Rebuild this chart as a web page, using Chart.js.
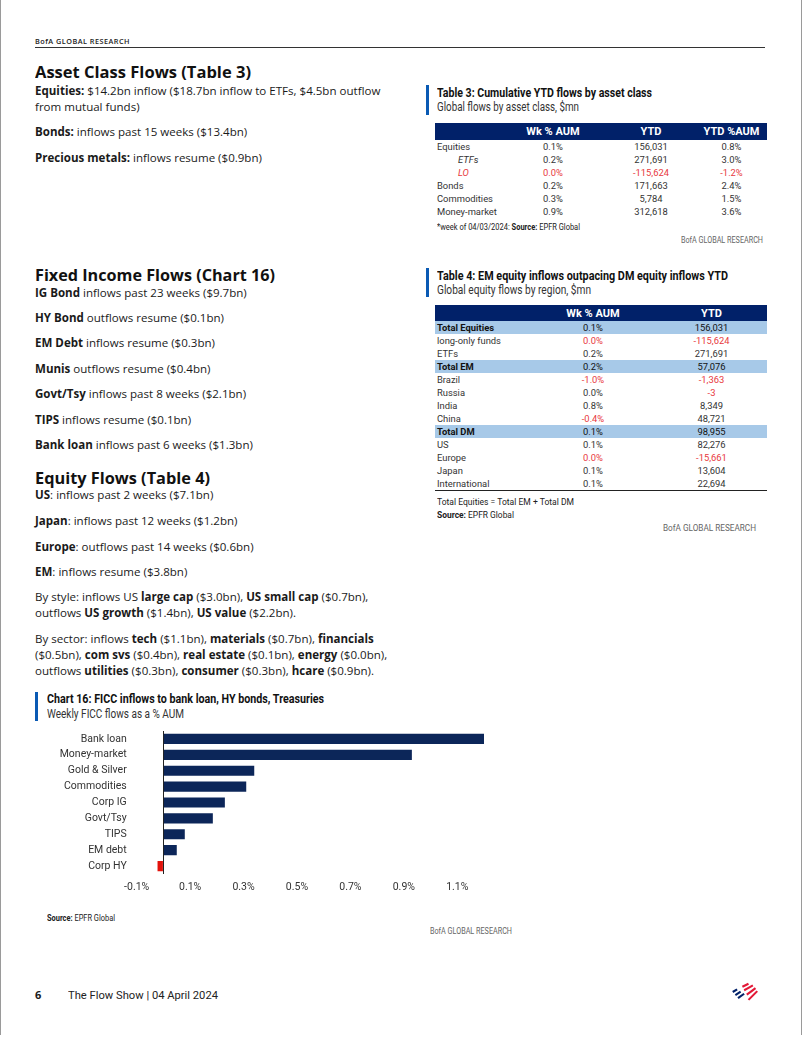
<!DOCTYPE html>
<html>
<head>
<meta charset="utf-8">
<script src="https://cdn.jsdelivr.net/npm/chart.js@4.4.1/dist/chart.umd.min.js"></script>
<style>
  html, body { margin:0; padding:0; background:#fff; }
  body { width:802px; height:1037px; position:relative; overflow:hidden; color:#1a1a1a;
         font-family:"Open Sans","Noto Sans",sans-serif; }
  .abs { position:absolute; white-space:nowrap; transform-origin:0 50%; }
  .frame { position:absolute; left:0; top:0; width:800px; height:1035px; border-left:1px solid #9a9a9a; border-right:1px solid #9a9a9a; }
  .hdr { font-size:7.5px; letter-spacing:0.5px; font-weight:600; color:#222; }
  .h1 { font-size:16.6px; font-weight:700; color:#111; line-height:20px; }
  .p { font-size:11.55px; line-height:16px; }
  .p b { font-weight:700; }
  .cond { font-family:Roboto,"Liberation Sans",sans-serif; }
  .ttl { font-size:12px; font-weight:700; line-height:14px; color:#111; }
  .sub { font-size:12px; line-height:14px; color:#333; }
  .bluebar { position:absolute; width:3px; background:#0a5ab4; }
  table { border-collapse:collapse; position:absolute; table-layout:fixed; }
  td, th { padding:0; height:13px; line-height:13px; font-size:9.4px; white-space:nowrap; overflow:visible; color:#333; }
  th { background:#012169; color:#fff; font-weight:700; font-size:11px; height:17px; text-align:center; }
  td.c { text-align:center; }
  td.l { text-align:left; padding-left:2px; }
  td.ind { padding-left:23px; }
  td.neg { color:#e8383d; }
  tr.hl td { background:#a7c9e8; color:#111; }
  tr.hl td.l { font-weight:700; }
  .note { font-size:8.4px; color:#222; line-height:11px; }
  .brand { font-size:8.4px; color:#666; line-height:11px; }
</style>
</head>
<body>
<div class="frame"></div>

<div class="abs hdr" data-w="95" style="left:35px; top:36px;">BofA GLOBAL RESEARCH</div>
<div class="abs" style="left:35px; top:47px; width:730px; height:1px; background:#333;"></div>

<!-- Left column -->
<div class="abs h1" data-w="216" style="left:35px; top:62px;">Asset Class Flows (Table 3)</div>
<div class="abs p" style="left:35px; top:83px;"><b>Equities:</b> $14.2bn inflow ($18.7bn inflow to ETFs, $4.5bn outflow<br>from mutual funds)</div>
<div class="abs p" style="left:35px; top:124px;"><b>Bonds:</b> inflows past 15 weeks ($13.4bn)</div>
<div class="abs p" style="left:35px; top:150px;"><b>Precious metals:</b> inflows resume ($0.9bn)</div>

<div class="abs h1" data-w="240" style="left:35px; top:265px;">Fixed Income Flows (Chart 16)</div>
<div class="abs p" style="left:35px; top:285px;"><b>IG Bond</b> inflows past 23 weeks ($9.7bn)</div>
<div class="abs p" style="left:35px; top:310px;"><b>HY Bond</b> outflows resume ($0.1bn)</div>
<div class="abs p" style="left:35px; top:335px;"><b>EM Debt</b> inflows resume ($0.3bn)</div>
<div class="abs p" style="left:35px; top:361px;"><b>Munis</b> outflows resume ($0.4bn)</div>
<div class="abs p" style="left:35px; top:386px;"><b>Govt/Tsy</b> inflows past 8 weeks ($2.1bn)</div>
<div class="abs p" style="left:35px; top:412px;"><b>TIPS</b> inflows resume ($0.1bn)</div>
<div class="abs p" style="left:35px; top:437px;"><b>Bank loan</b> inflows past 6 weeks ($1.3bn)</div>

<div class="abs h1" data-w="175" style="left:35px; top:468px;">Equity Flows (Table 4)</div>
<div class="abs p" style="left:35px; top:487px;"><b>US</b>: inflows past 2 weeks ($7.1bn)</div>
<div class="abs p" style="left:35px; top:513px;"><b>Japan</b>: inflows past 12 weeks ($1.2bn)</div>
<div class="abs p" style="left:35px; top:539px;"><b>Europe</b>: outflows past 14 weeks ($0.6bn)</div>
<div class="abs p" style="left:35px; top:564px;"><b>EM</b>: inflows resume ($3.8bn)</div>
<div class="abs p" style="left:35px; top:589px;">By style: inflows US <b>large cap</b> ($3.0bn), <b>US small cap</b> ($0.7bn),<br>outflows <b>US growth</b> ($1.4bn), <b>US value</b> ($2.2bn).</div>
<div class="abs p" style="left:35px; top:631px;">By sector: inflows <b>tech</b> ($1.1bn), <b>materials</b> ($0.7bn), <b>financials</b><br>($0.5bn), <b>com svs</b> ($0.4bn), <b>real estate</b> ($0.1bn), <b>energy</b> ($0.0bn),<br>outflows <b>utilities</b> ($0.3bn), <b>consumer</b> ($0.3bn), <b>hcare</b> ($0.9bn).</div>

<!-- Chart 16 -->
<div class="bluebar" style="left:35px; top:692px; height:29px;"></div>
<div class="abs cond ttl" data-w="277" style="left:47px; top:692px;">Chart 16: FICC inflows to bank loan, HY bonds, Treasuries</div>
<div class="abs cond sub" data-w="137" style="left:47px; top:707px;">Weekly FICC flows as a % AUM</div>
<div class="abs" style="left:40px; top:722px; width:460px; height:178px;"><canvas id="c"></canvas></div>
<div class="abs cond note" data-w="68" style="left:47px; top:913px;"><b>Source:</b> EPFR Global</div>
<div class="abs cond brand" data-w="82" style="left:430px; top:926px;">BofA GLOBAL RESEARCH</div>

<!-- Table 3 -->
<div class="bluebar" style="left:426px; top:85px; height:30px;"></div>
<div class="abs cond ttl" data-w="215" style="left:437px; top:86px;">Table 3: Cumulative YTD flows by asset class</div>
<div class="abs cond sub" data-w="142" style="left:437px; top:100px;">Global flows by asset class, $mn</div>
<table class="cond" id="t3" style="left:435px; top:123px; width:332px;">
  <colgroup><col style="width:65px"><col style="width:106px"><col style="width:90px"><col style="width:71px"></colgroup>
  <thead><tr><th></th><th>Wk % AUM</th><th>YTD</th><th>YTD %AUM</th></tr></thead>
  <tbody></tbody>
</table>
<div class="abs cond note" data-w="143" style="left:437px; top:222px;">*week of 04/03/2024: <b>Source:</b> EPFR Global</div>
<div class="abs cond brand" data-w="82" style="left:681px; top:235px;">BofA GLOBAL RESEARCH</div>

<!-- Table 4 -->
<div class="bluebar" style="left:426px; top:268px; height:29px;"></div>
<div class="abs cond ttl" data-w="291" style="left:437px; top:269px;">Table 4: EM equity inflows outpacing DM equity inflows YTD</div>
<div class="abs cond sub" data-w="154" style="left:437px; top:283px;">Global equity flows by region, $mn</div>
<table class="cond" id="t4" style="left:435px; top:305px; width:332px; border-bottom:1.5px solid #222;">
  <colgroup><col style="width:95px"><col style="width:126px"><col style="width:111px"></colgroup>
  <thead><tr><th style="height:16px"></th><th style="height:16px">Wk % AUM</th><th style="height:16px">YTD</th></tr></thead>
  <tbody></tbody>
</table>
<div class="abs cond note" data-w="137" style="left:437px; top:497px;">Total Equities = Total EM + Total DM</div>
<div class="abs cond note" data-w="77" style="left:437px; top:510px;"><b>Source:</b> EPFR Global</div>
<div class="abs cond brand" data-w="93" style="left:663px; top:523px;">BofA GLOBAL RESEARCH</div>

<!-- Footer -->
<div class="abs" style="left:35px; top:987px; font-size:11px; font-weight:700;">6</div>
<div class="abs cond" data-w="150" style="left:68px; top:988px; font-size:11.5px; color:#222;">The Flow Show | 04 April 2024</div>
<svg class="abs" style="left:731px; top:982px;" width="28" height="20" viewBox="0 0 32 22">
  <g stroke-width="2.4" stroke-linecap="butt" fill="none">
    <path d="M2 11 L7 8" stroke="#012169"/>
    <path d="M5 14.5 L11 10.5" stroke="#012169"/>
    <path d="M8 18 L15 13" stroke="#012169"/>
    <path d="M13 5 Q17 3 20 1.5" stroke="#e31837"/>
    <path d="M15 9 Q20 6.5 25 3.5" stroke="#e31837"/>
    <path d="M18 14 Q23 10.5 28 6.5" stroke="#e31837"/>
    <path d="M20 20 Q25 15 30 10" stroke="#e31837"/>
  </g>
</svg>

<script>
// ---------- Chart 16 data ----------
const categories = ["Bank loan","Money-market","Gold & Silver","Commodities","Corp IG","Govt/Tsy","TIPS","EM debt","Corp HY"];
const weeklyFlowPct = [1.20, 0.93, 0.34, 0.31, 0.23, 0.185, 0.08, 0.05, -0.022];
const xTickValues = [-0.1, 0.1, 0.3, 0.5, 0.7, 0.9, 1.1];

// ---------- Table 3 data ----------
const t3Labels = ["Equities","ETFs","LO","Bonds","Commodities","Money-market"];
const t3Indent = [false,true,true,false,false,false];
const t3WkAUM = ["0.1%","0.2%","0.0%","0.2%","0.3%","0.9%"];
const t3YTD = ["156,031","271,691","-115,624","171,663","5,784","312,618"];
const t3YTDAUM = ["0.8%","3.0%","-1.2%","2.4%","1.5%","3.6%"];
const t3Red = [false,false,true,false,false,false];

// ---------- Table 4 data ----------
const t4Labels = ["Total Equities","long-only funds","ETFs","Total EM","Brazil","Russia","India","China","Total DM","US","Europe","Japan","International"];
const t4Highlight = [true,false,false,true,false,false,false,false,true,false,false,false,false];
const t4WkAUM = ["0.1%","0.0%","0.2%","0.2%","-1.0%","0.0%","0.8%","-0.4%","0.1%","0.1%","0.0%","0.1%","0.1%"];
const t4WkRed = [false,true,false,false,true,false,false,true,false,false,true,false,false];
const t4YTD = ["156,031","-115,624","271,691","57,076","-1,363","-3","8,349","48,721","98,955","82,276","-15,661","13,604","22,694"];

// build tables
const tb3 = document.querySelector('#t3 tbody');
t3Labels.forEach((lab,i)=>{
  const tr = document.createElement('tr');
  const r = t3Red[i] ? ' neg' : '';
  tr.innerHTML = `<td class="l${t3Indent[i]?' ind':''}${r}" style="${t3Indent[i]?'font-style:italic':''}">${lab}</td>`+
    `<td class="c${r}">${t3WkAUM[i]}</td><td class="c${r}">${t3YTD[i]}</td><td class="c${r}">${t3YTDAUM[i]}</td>`;
  tb3.appendChild(tr);
});
const tb4 = document.querySelector('#t4 tbody');
t4Labels.forEach((lab,i)=>{
  const tr = document.createElement('tr');
  if (t4Highlight[i]) tr.className = 'hl';
  const wr = t4WkRed[i] ? ' neg' : '';
  const yr = t4YTD[i].startsWith('-') ? ' neg' : '';
  tr.innerHTML = `<td class="l">${lab}</td><td class="c${wr}">${t4WkAUM[i]}</td><td class="c${yr}">${t4YTD[i]}</td>`;
  tb4.appendChild(tr);
});

// fit text widths to the reference
function fitTexts(){
  document.querySelectorAll('[data-w]').forEach(el=>{
    el.style.transform = 'none';
    const w = el.getBoundingClientRect().width;
    const target = parseFloat(el.dataset.w);
    if (w > 0) el.style.transform = `scaleX(${target / w})`;
  });
}
fitTexts();
if (document.fonts && document.fonts.ready) document.fonts.ready.then(fitTexts);

// chart
const condFont = 'Roboto, "Liberation Sans", sans-serif';
new Chart(document.getElementById('c'), {
  type: 'bar',
  data: {
    labels: categories,
    datasets: [{
      data: weeklyFlowPct,
      backgroundColor: weeklyFlowPct.map(v => v < 0 ? '#e3120b' : '#0c2659'),
      barPercentage: 0.64,
      categoryPercentage: 1.0,
      borderWidth: 0
    }]
  },
  options: {
    indexAxis: 'y',
    responsive: true,
    maintainAspectRatio: false,
    animation: false,
    layout: { padding: { top: 9, right: 16, bottom: 0, left: 0 } },
    plugins: { legend: { display: false }, tooltip: { enabled: false } },
    scales: {
      x: {
        min: -0.1, max: 1.2,
        afterBuildTicks: (s) => { s.ticks = [...xTickValues.slice(0,1), 0, ...xTickValues.slice(1)].map(v => ({ value: v })); },
        afterFit: (s) => { s.height = 26; s.paddingLeft = 0; s.paddingRight = 0; },
        border: { display: false },
        grid: { drawTicks: false, lineWidth: 1, color: (ctx) => (ctx.tick && ctx.tick.value === 0) ? '#222' : 'rgba(0,0,0,0)' },
        ticks: {
          padding: 7, color: '#333', font: { family: condFont, size: 10.5 },
          callback: (v) => v === 0 ? '' : v.toFixed(1) + '%'
        }
      },
      y: {
        afterFit: (s) => { s.width = 96.7; s.paddingTop = 0; s.paddingBottom = 0; },
        border: { display: false },
        grid: { display: false, drawTicks: false },
        ticks: { autoSkip: false, padding: 10, color: '#333', font: { family: condFont, size: 10.5 } }
      }
    }
  }
});
</script>
</body>
</html>
